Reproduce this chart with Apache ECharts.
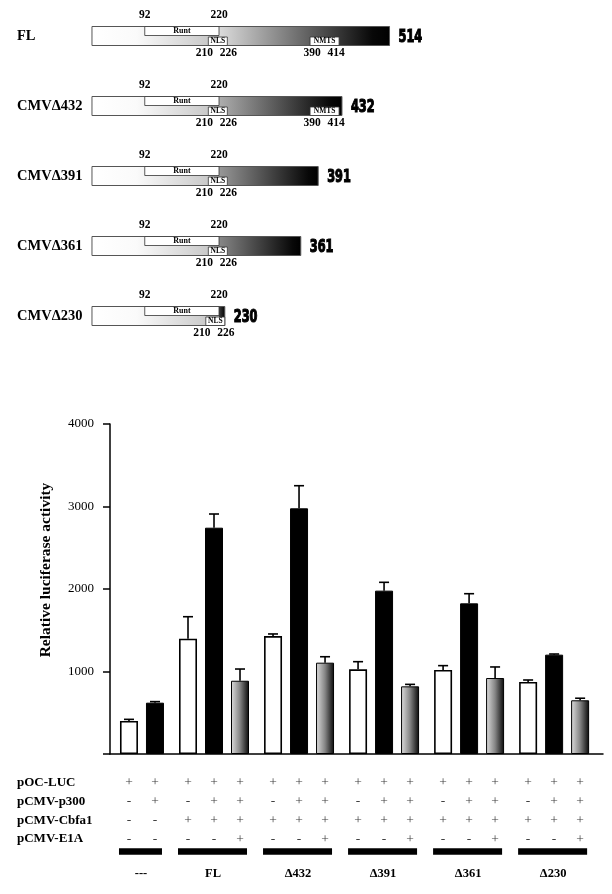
<!DOCTYPE html>
<html><head><meta charset="utf-8">
<script src="https://cdn.jsdelivr.net/npm/echarts/dist/echarts.min.js"></script>
<style>html,body{margin:0;padding:0;background:#fff}#chart{width:612px;height:894px}</style>
</head><body><div id="chart"></div>
<script>
// ---------------- data ----------------
const constructNames = ['FL', 'CMVΔ432', 'CMVΔ391', 'CMVΔ361', 'CMVΔ230'];
const constructEnds = [514, 432, 391, 361, 230];
const runtDomain = [92, 220];
const nlsDomain = [210, 226];
const nmtsDomain = [390, 414];

const groupNames = ['---', 'FL', 'Δ432', 'Δ391', 'Δ361', 'Δ230'];
const basalValues = [400, 1398, 1430, 1026, 1018, 873];
const basalErrors = [20, 266, 25, 93, 53, 24];
const p300Values = [622, 2743, 2978, 1980, 1826, 1204];
const p300Errors = [13, 166, 274, 101, 117, 8];
const e1aValues = [null, 888, 1107, 820, 921, 651];
const e1aErrors = [null, 142, 72, 24, 134, 25];
const yTickValues = [0, 1000, 2000, 3000, 4000];

const tableRows = ['pOC-LUC', 'pCMV-p300', 'pCMV-Cbfa1', 'pCMV-E1A'];
const rowOCLUC = ['+','+', '+','+','+', '+','+','+', '+','+','+', '+','+','+', '+','+','+'];
const rowP300  = ['-','+', '-','+','+', '-','+','+', '-','+','+', '-','+','+', '-','+','+'];
const rowCbfa1 = ['-','-', '+','+','+', '+','+','+', '+','+','+', '+','+','+', '+','+','+'];
const rowE1A   = ['-','-', '-','-','+', '-','-','+', '-','-','+', '-','-','+', '-','-','+'];
const tableSigns = [rowOCLUC, rowP300, rowCbfa1, rowE1A];

// ---------------- layout helpers ----------------
const GROUP_GAP = 1.27;           // spacing between groups in bar-slot units
const groupPos = [];
let last = null;
groupNames.forEach((g, gi) => {
  const n = e1aValues[gi] == null ? 2 : 3;
  const start = last === null ? 0 : last + GROUP_GAP;
  const ps = [];
  for (let k = 0; k < n; k++) ps.push(start + k);
  last = ps[n - 1];
  groupPos.push(ps);
});
const flatPos = [].concat(...groupPos);

const serif = "'Liberation Serif','Times New Roman',serif";
const heavy = "'Liberation Sans Narrow','DejaVu Sans Condensed','Liberation Sans',sans-serif";
const LG = echarts.graphic.LinearGradient;

// ---------------- series data ----------------
const basalData = groupPos.map((ps, gi) => [ps[0], basalValues[gi]]);
const p300Data = groupPos.map((ps, gi) => [ps[1], p300Values[gi]]);
const e1aData = [];
groupPos.forEach((ps, gi) => { if (e1aValues[gi] != null) e1aData.push([ps[2], e1aValues[gi]]); });
const errData = [];
groupPos.forEach((ps, gi) => {
  errData.push([ps[0], basalValues[gi], basalErrors[gi]]);
  errData.push([ps[1], p300Values[gi], p300Errors[gi]]);
  if (e1aValues[gi] != null) errData.push([ps[2], e1aValues[gi], e1aErrors[gi]]);
});
const signData = [];
tableSigns.forEach((row, r) => row.forEach((s, j) => signData.push({ value: [flatPos[j], r], sign: s })));
const groupBarData = groupPos.map((ps, gi) => [ps[0], ps[ps.length - 1], 3, gi]);
const constructData = constructEnds.map((e, i) => [i, e]);

// ---------------- render functions ----------------
function txt(text, x, y, size, align, weight, family) {
  return { type: 'text', style: { text: text, x: x, y: y, fontSize: size, fontFamily: family || serif,
    fontWeight: weight || 'bold', fill: '#000', align: align || 'center', verticalAlign: 'middle' } };
}
function minBox(dom, minW, xMax, c) {
  let a = c(dom[0]), b = c(dom[1]);
  const w = Math.max(b - a, minW);
  const mid = (a + b) / 2;
  a = mid - w / 2; b = mid + w / 2;
  if (b > xMax) { a -= (b - xMax); b = xMax; }
  return [a, b];
}
function renderConstruct(params, api) {
  const idx = api.value(0), end = api.value(1);
  const c = r => api.coord([r, idx])[0];
  const yc = api.coord([1, idx])[1];
  const H = 19, top = yc - H / 2, bot = yc + H / 2;
  const x0 = c(1), x1 = c(end);
  const xr0 = c(runtDomain[0]), xr1 = c(Math.min(runtDomain[1], end));
  const frac = Math.max(0, (end - nlsDomain[1]) / (constructEnds[0] - nlsDomain[1]));
  const g0 = Math.round(60 + 160 * frac);
  const ch = [];
  ch.push({ type: 'rect', shape: { x: x0, y: top, width: xr1 - x0, height: H },
    style: { fill: new LG(0, 0, 1, 0, [{ offset: 0, color: '#ffffff' }, { offset: 0.35, color: '#fafafa' }, { offset: 1, color: '#c2c2c2' }]) } });
  ch.push({ type: 'rect', shape: { x: xr1, y: top, width: x1 - xr1, height: H },
    style: { fill: new LG(0, 0, 1, 0, [{ offset: 0, color: 'rgb(' + g0 + ',' + g0 + ',' + g0 + ')' }, { offset: 0.9, color: '#080808' }, { offset: 1, color: '#000' }]) } });
  ch.push({ type: 'rect', shape: { x: x0, y: top, width: x1 - x0, height: H }, style: { fill: 'none', stroke: '#555', lineWidth: 1 } });
  // Runt
  ch.push({ type: 'rect', shape: { x: xr0, y: top, width: xr1 - xr0, height: H / 2 - 0.5 }, style: { fill: '#fff', stroke: '#333', lineWidth: 0.8 } });
  ch.push(txt('Runt', (xr0 + xr1) / 2, top + H / 4, 8));
  // NLS
  const nb = minBox(nlsDomain, 19, x1, c);
  ch.push({ type: 'rect', shape: { x: nb[0], y: yc + 1, width: nb[1] - nb[0], height: H / 2 - 1 }, style: { fill: '#fff', stroke: '#333', lineWidth: 0.8 } });
  ch.push(txt('NLS', (nb[0] + nb[1]) / 2, yc + H / 4 + 0.5, 7.5));
  ch.push(txt(String(runtDomain[0]), xr0, top - 11, 11.5));
  ch.push(txt(String(runtDomain[1]), c(runtDomain[1]), top - 11, 11.5));
  ch.push(txt(String(nlsDomain[0]), nb[0] - 4, bot + 8, 11.5));
  ch.push(txt(String(nlsDomain[1]), nb[1] + 1, bot + 8, 11.5));
  if (end >= nmtsDomain[1]) {
    const mb = minBox(nmtsDomain, 29, x1, c);
    ch.push({ type: 'rect', shape: { x: mb[0], y: yc + 1, width: mb[1] - mb[0], height: H / 2 - 1 }, style: { fill: '#fff', stroke: '#333', lineWidth: 0.8 } });
    ch.push(txt('NMTS', (mb[0] + mb[1]) / 2, yc + H / 4 + 0.5, 7.5));
    ch.push(txt(String(nmtsDomain[0]), mb[0] + 2, bot + 8, 11.5));
    ch.push(txt(String(nmtsDomain[1]), mb[1] - 3, bot + 8, 11.5));
  }
  const endLbl = {
    type: 'text', x: x1 + 9, y: yc + 1.5, scaleX: 0.74, scaleY: 1,
    style: { text: String(end), x: 0, y: 0, fontSize: 17, fontFamily: heavy, fontWeight: 'bold',
      fill: '#000', stroke: '#000', lineWidth: 1.1, align: 'left', verticalAlign: 'middle' }
  };
  ch.push(endLbl);
  return { type: 'group', children: ch };
}
function renderErr(params, api) {
  const x = api.value(0), v = api.value(1), e = api.value(2);
  const p = api.coord([x, v]), t = api.coord([x, v + e]);
  const ls = { stroke: '#000', lineWidth: 1.6 };
  return { type: 'group', children: [
    { type: 'line', shape: { x1: p[0], y1: p[1], x2: t[0], y2: t[1] }, style: ls },
    { type: 'line', shape: { x1: t[0] - 5, y1: t[1], x2: t[0] + 5, y2: t[1] }, style: ls }
  ] };
}
function renderGroupBar(params, api) {
  const a = api.coord([api.value(0), api.value(2)]), b = api.coord([api.value(1), api.value(2)]);
  const gi = api.value(3);
  return { type: 'group', children: [
    { type: 'rect', shape: { x: a[0] - 10, y: a[1] + 9.2, width: b[0] - a[0] + 17, height: 6.5 }, style: { fill: '#000' } },
    txt(groupNames[gi], (a[0] + b[0]) / 2 - 1, a[1] + 35, 12.5)
  ] };
}

// ---------------- option ----------------
const xRange = { min: -0.73, max: 18.23 };
const option = {
  animation: false,
  backgroundColor: '#fff',
  grid: [
    { left: 110, right: 9, top: 424, height: 330 },
    { left: 110, right: 9, top: 773.6, height: 74.8 },
    { left: 91.4, width: 348, top: 1, height: 350 }
  ],
  xAxis: [
    { gridIndex: 0, type: 'value', min: xRange.min, max: xRange.max,
      axisLine: { show: true, onZero: false, lineStyle: { color: '#000', width: 1.5 } },
      axisTick: { show: false }, axisLabel: { show: false }, splitLine: { show: false } },
    { gridIndex: 1, type: 'value', min: xRange.min, max: xRange.max, show: false },
    { gridIndex: 2, type: 'value', min: 0, max: 600, show: false }
  ],
  yAxis: [
    { gridIndex: 0, type: 'value', min: yTickValues[0], max: yTickValues[yTickValues.length - 1], interval: yTickValues[1] - yTickValues[0],
      axisLine: { show: true, onZero: false, lineStyle: { color: '#000', width: 1.5 } },
      axisTick: { show: true, length: 7, lineStyle: { color: '#000', width: 1.5 } },
      axisLabel: { margin: 16, fontSize: 13, fontFamily: serif, color: '#000', formatter: v => (v === 0 ? '' : String(v)) },
      splitLine: { show: false },
      name: 'Relative luciferase activity', nameLocation: 'middle', nameGap: 56, nameRotate: 90,
      nameTextStyle: { fontFamily: serif, fontWeight: 'bold', fontSize: 15.5, color: '#000', padding: [0, 0, 0, 38] } },
    { gridIndex: 1, type: 'category', inverse: true, data: tableRows,
      axisLine: { show: false }, axisTick: { show: false },
      axisLabel: { align: 'left', margin: 93, fontFamily: serif, fontWeight: 'bold', fontSize: 13, color: '#000' } },
    { gridIndex: 2, type: 'category', inverse: true, data: constructNames,
      axisLine: { show: false }, axisTick: { show: false },
      axisLabel: { align: 'left', margin: 74.4, fontFamily: serif, fontWeight: 'bold', fontSize: 14.5, color: '#000' } }
  ],
  series: [
    { type: 'bar', name: 'basal', xAxisIndex: 0, yAxisIndex: 0, barWidth: 18, barGap: '-100%', data: basalData,
      itemStyle: { color: '#fff', borderColor: '#000', borderWidth: 1.6 } },
    { type: 'bar', name: 'p300', xAxisIndex: 0, yAxisIndex: 0, barWidth: 18, barGap: '-100%', data: p300Data,
      itemStyle: { color: '#000', borderColor: '#000', borderWidth: 1 } },
    { type: 'bar', name: 'p300+E1A', xAxisIndex: 0, yAxisIndex: 0, barWidth: 18, barGap: '-100%', data: e1aData,
      itemStyle: { color: new LG(0, 0, 1, 0, [{ offset: 0, color: '#dedede' }, { offset: 0.5, color: '#858585' }, { offset: 1, color: '#080808' }]), borderColor: '#000', borderWidth: 1 } },
    { type: 'custom', name: 'errors', xAxisIndex: 0, yAxisIndex: 0, data: errData, encode: { x: 0, y: 1 }, renderItem: renderErr, z: 5, clip: false },
    { type: 'scatter', name: 'table', xAxisIndex: 1, yAxisIndex: 1, data: signData, symbolSize: 1,
      itemStyle: { color: 'rgba(0,0,0,0)' },
      label: { show: true, position: 'inside', formatter: p => p.data.sign, fontFamily: serif, fontSize: 13.5, color: '#000' } },
    { type: 'custom', name: 'groups', xAxisIndex: 1, yAxisIndex: 1, data: groupBarData, encode: { x: [0, 1], y: 2 }, renderItem: renderGroupBar, clip: false },
    { type: 'custom', name: 'constructs', xAxisIndex: 2, yAxisIndex: 2, data: constructData, encode: { x: 1, y: 0 }, renderItem: renderConstruct, clip: false }
  ]
};
const chart = echarts.init(document.getElementById('chart'), null, { renderer: 'canvas' });
chart.setOption(option);
</script></body></html>
